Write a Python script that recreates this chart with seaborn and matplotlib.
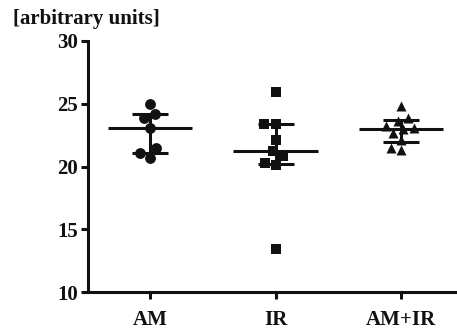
import numpy as np
import pandas as pd
import matplotlib
matplotlib.use("Agg")
import matplotlib.pyplot as plt
import seaborn as sns

# values
groups = ["AM", "IR", "AM+IR"]
am = [24.95, 24.15, 23.85, 23.1, 21.45, 21.05, 20.7]
ir = [25.9, 23.35, 23.35, 22.1, 21.2, 20.8, 20.25, 20.15, 13.4]
am_ir = [24.85, 23.9, 23.65, 23.2, 22.95, 23.05, 22.65, 22.1, 21.3, 21.5]
markers = ["o", "s", "^"]
marker_sizes = [7.8, 7.6, 7.2]
y_ticks = [10, 15, 20, 25, 30]

df = pd.DataFrame({
    "group": ["AM"] * len(am) + ["IR"] * len(ir) + ["AM+IR"] * len(am_ir),
    "value": am + ir + am_ir,
})

sns.set_style("ticks")
plt.rcParams["font.family"] = ["Liberation Serif", "DejaVu Serif"]
plt.rcParams["font.weight"] = "bold"

ink = "#111111"
lw = 2.2

fig = plt.figure(figsize=(4.57, 3.29), dpi=100)
ax = fig.add_axes([88 / 457, 37 / 329, 369 / 457, 251 / 329])

for g, m, s in zip(groups, markers, marker_sizes):
    sns.swarmplot(
        data=df[df["group"] == g], x="group", y="value", order=groups,
        marker=m, size=s, color=ink, linewidth=0, ax=ax, zorder=2,
    )

# median with interquartile range
for i, g in enumerate(groups):
    vals = df.loc[df["group"] == g, "value"].to_numpy()
    med = np.median(vals)
    q1, q3 = np.percentile(vals, [25, 75], method="weibull")
    ax.hlines(med, i - 0.335, i + 0.335, color=ink, linewidth=lw, zorder=3)
    ax.errorbar(i, med, yerr=[[med - q1], [q3 - med]], fmt="none", ecolor=ink,
                elinewidth=lw, capsize=13.3, capthick=lw, zorder=3)

ax.set_xlim(-0.494, 2.446)
ax.set_ylim(10, 30)
ax.set_yticks(y_ticks)
ax.set_xlabel("")
ax.set_ylabel("")
sns.despine(ax=ax)
for side in ["left", "bottom"]:
    ax.spines[side].set_linewidth(lw)
    ax.spines[side].set_color(ink)
ax.tick_params(axis="y", length=5, width=lw, color=ink, pad=2, labelsize=15)
ax.tick_params(axis="x", length=5, width=lw, color=ink, pad=8, labelsize=15)
for lab in ax.get_xticklabels() + ax.get_yticklabels():
    lab.set_fontweight("bold")
    lab.set_color(ink)

fig.text(13 / 457, 1 - 19 / 329, "[arbitrary units]", fontsize=15,
         fontweight="bold", va="center", ha="left", color=ink)

fig.savefig("out.png", dpi=100)
